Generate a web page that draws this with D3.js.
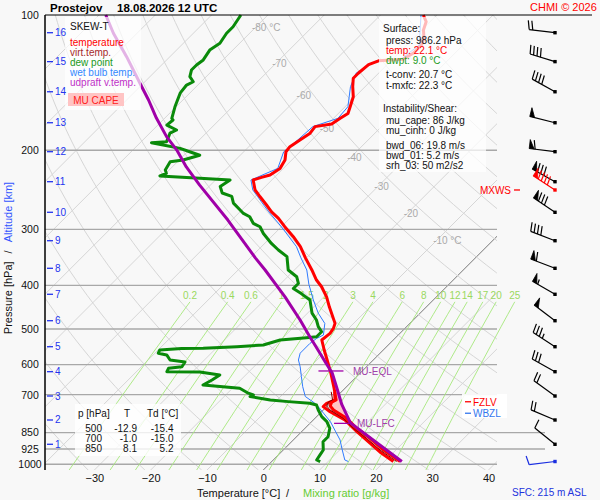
<!DOCTYPE html>
<html>
<head>
<meta charset="utf-8">
<style>
  body { margin: 0; background: #f8f8f8; }
  svg { display: block; font-family: "Liberation Sans", Arial, sans-serif; }
</style>
</head>
<body>
<div id="plot"></div>
<script src="https://cdn.jsdelivr.net/npm/d3@7"></script>
<script>

// sounding (pressure hPa, temperature C)
const tempP = [100,103.5,108,112.5,116.6,121.7,125.5,126.5,129,134.8,138.3,144.4,152.1,160,165.6,169.8,174.9,177.2,183.3,189.8,196.4,201.6,210.3,219.5,227.1,229.8,233,245.2,253.9,264.8,274.2,283.6,296,311.6,327.7,347.2,369.5,389,402.6,424.2,446.8,485.8,498.4,511.5,529,556.8,586.1,627,676.6,690,719.4,731.8,744.5,764,797,847,898,939,986.2]
const tempT = [-52.4,-50.7,-49.7,-48.2,-47.4,-47.4,-48.1,-52.2,-53.3,-53.6,-53.6,-52.2,-50.3,-49.1,-48.3,-48.8,-49.3,-51.8,-51.5,-52.1,-52.7,-52.5,-51.2,-50.6,-51.2,-52.3,-53.3,-51.2,-49.1,-46.5,-44.4,-42.0,-39.4,-36.1,-33.1,-30.2,-26.9,-24.3,-22.2,-19.5,-17.2,-13.3,-12.7,-12.4,-12.7,-10.5,-8.2,-5.2,-2.0,-1.2,0.3,-0.6,-0.6,1.5,5.6,9.9,14.2,17.5,21.6]

const virtP = [690,719.4,727,741.8,757,790,831.8,875.5,929.6,986.2]
const virtT = [-1.2,0.5,0.1,0.5,1.8,5.6,9.2,13.3,17.8,22.8]

const dewP = [100,106.2,109.8,115.6,119.7,125.9,129.2,132.6,137.2,140.8,143.2,149.3,160.1,169.9,171.3,175.8,180.3,183.3,191.4,192.4,194.8,198.1,201.6,205.2,210.3,212.1,221.3,225.2,228.1,230.8,233,240.9,249,253.4,262.3,271.7,276.5,281.2,290.9,296,306.4,322.5,333.5,345,369.5,382.5,395.9,406.3,417,431,461,477.5,494,507,520.3,523,529,542.6,547.3,551.8,552.5,556.8,566,571,586.1,592,606.6,611.6,622.1,623,632.9,649.3,666.3,677.6,694.8,700.8,706.8,719.4,725.5,731.6,738,757.2,783.5,804,831.8,868.6,891.4,929.6,953.5,978.5,986.2]
const dewT = [-84.8,-84.1,-84.1,-83.5,-84.1,-83.5,-83.8,-83.8,-82.9,-81.4,-82.0,-81.7,-80.2,-78.7,-78.2,-78.4,-75.8,-76.4,-75.5,-78.0,-75.5,-71.9,-69.6,-67.2,-69.3,-71.3,-70.7,-69.9,-70.6,-63.1,-57.4,-58.0,-56.5,-54.2,-52.7,-50.3,-49.1,-47.4,-45.6,-43.8,-42.0,-38.8,-36.4,-33.7,-31.1,-28.4,-26.9,-26.9,-24.6,-21.9,-19.2,-17.2,-15.7,-14.2,-14.2,-15.8,-20.1,-22.2,-26.6,-32.3,-36.1,-39.7,-39.4,-37.6,-36.1,-33.1,-32.8,-34.9,-34.6,-28.7,-24.6,-25.1,-25.8,-18.7,-16.3,-15.1,-15.4,-11.2,-7.7,-3.6,-2.1,-0.9,0.9,2.7,4.4,5.6,5.6,7.1,7.4,7.7,8.6]

const wetP = [100,116.6,125.5,126.5,134.8,144.4,160,169.8,177.2,189.8,201.6,219.5,233,245.2,253.9,264.8,274.2,296,327.7,347.2,369.5,397.5,431,461,486,515.6,524.6,538.4,566,586.1,606.6,638.6,672,706.6,731.6,744.4,769.7,803.5,844,883,921.6,978.5,986.2]
const wetT = [-52.8,-47.8,-48.5,-52.6,-54.0,-52.6,-49.5,-49.2,-52.2,-52.5,-52.9,-51.0,-53.7,-51.6,-49.5,-47.0,-44.9,-40.0,-33.8,-31.0,-27.8,-24.9,-21.3,-18.1,-15.1,-13.3,-13.9,-14.2,-14.2,-13.3,-11.8,-9.8,-7.8,-5.6,-2.7,-1.5,0.6,3.3,5.9,8.3,10.1,12.7,13.6]

const parcelP = [100,109.8,123.8,141.9,154.6,169.6,186.5,199.8,217.9,239.2,286,347.2,369.5,424,477.5,515.6,556.8,595,626.3,676.6,736.2,809,986.2]
const parcelT = [-108.8,-104.2,-97.7,-90.6,-86.1,-81.5,-76.4,-72.2,-67.5,-61.9,-50.7,-39.1,-35.2,-26.9,-20.1,-15.9,-11.6,-7.9,-5.0,-1.5,2.3,7.1,23.1]

const lfcP = 811, eqlP = 620, fzlvP = 726, wbzlP = 770

// axes and grid
const pressureTicks = [100,200,300,400,500,600,700,850,925,1000]
const tempTicks = [-30,-20,-10,0,10,20,30,40]
const altKm = [1,2,3,4,5,6,7,8,9,10,11,12,13,14,15,16]
const altP = [902.8,797.1,704.9,622.3,547.5,479.2,418.5,366.3,318,274.9,235,201.5,173.7,148.2,127,109.5]
const mixRatios = [0.2,0.4,0.6,1,1.5,2,3,4,6,8,10,12,14,17,20,25]
const isoLabelT = [-80,-70,-60,-50,-40,-30,-20,-10]
const isoLabelP = [106.3,127.9,150.6,178.6,207,240.3,276,316.6]

// winds: surface then 1..16 km
const windP = [986.2].concat(altP)
const windDir = [263,309,293,306,299,303,307,300,291,291,304,299,277,284,299,287,277]
const windSpd = [10,10,20,20,30,35,50,55,60,40,80,80,60,50,40,40,20]
const mxwsP = 245.2, mxwsDir = 303, mxwsSpd = 90

const surfaceLines = ["press: 986.2 hPa", "temp: 22.1 °C", "dwpt: 9.0 °C", "t-conv: 20.7 °C", "t-mxfc: 22.3 °C"]
const shearLines = ["mu_cape: 86 J/kg", "mu_cinh: 0 J/kg", "bwd_06: 19.8 m/s", "bwd_01: 5.2 m/s", "srh_03: 50 m2/s2"]
const tableP = [500, 700, 850]
const tableT = ["-12.9", "-1.0", "8.1"]
const tableTd = ["-15.4", "-15.0", "5.2"]

let width = 600
let height = 500

let svg = d3.select("#plot")
    .append("svg")
    .attr("width", width)
    .attr("height", height)

svg.append("rect").attr("width", width).attr("height", height).attr("fill", "#f8f8f8")

let y = d3.scaleLog().domain([100, 1030]).range([15, 470])
let xBase = d3.scaleLinear().domain([0, 10]).range([263.3, 319.6])
let sx = (t, p) => xBase(t) + (470 - y(p))

let zip = (ps, ts) => ps.map((p, i) => ({p: p, t: ts[i]}))
let interp = (ps, ts, p) => {
    let i = d3.bisectLeft(ps, p)
    if (i <= 0) return ts[0]
    if (i >= ps.length) return ts[ts.length - 1]
    let f = (Math.log(p) - Math.log(ps[i-1])) / (Math.log(ps[i]) - Math.log(ps[i-1]))
    return ts[i-1] + f * (ts[i] - ts[i-1])
}

svg.append("clipPath").attr("id", "frame")
    .append("rect").attr("x", 45).attr("y", 15).attr("width", 452).attr("height", 455)

let grid = svg.append("g").attr("clip-path", "url(#frame)")

// isotherms
let isoLine = t => [[sx(t, 1030), y(1030)], [sx(t, 100), y(100)]]
d3.range(-130, 50, 10).forEach(t => {
    grid.append("path")
        .attr("d", d3.line()(isoLine(t)))
        .attr("stroke", t == 0 ? "#777" : "#d6d6d6")
        .attr("stroke-width", 1)
        .attr("fill", "none")
})

// dry adiabats
let logP = d3.range(61).map(i => Math.exp(Math.log(1030) + i / 60 * (Math.log(100) - Math.log(1030))))
d3.range(230, 480, 10).forEach(th => {
    let pts = logP.map(p => [sx(th * Math.pow(p / 1000, 0.2857) - 273.15, p), y(p)])
    grid.append("path")
        .attr("d", d3.line()(pts))
        .attr("stroke", "#d6d6d6")
        .attr("fill", "none")
})

// isobars
pressureTicks.filter(p => p > 100).forEach(p => {
    svg.append("line")
        .attr("x1", 45).attr("x2", (p == 850 || p == 925) ? 545 : 497)
        .attr("y1", y(p)).attr("y2", y(p))
        .attr("stroke", "#a8a8a8")
        .attr("stroke-width", 1.3)
})

// mixing ratio lines
let dewFromW = (w, p) => {
    let e = w * p / (622 + w)
    let l = Math.log(e / 6.112)
    return 243.5 * l / (17.67 - l)
}
let mixTop = 435
mixRatios.forEach(w => {
    let pts = d3.range(21).map(i => {
        let p = 1030 - i / 20 * (1030 - mixTop)
        return [sx(dewFromW(w, p), p), y(p)]
    })
    svg.append("path")
        .attr("d", d3.line()(pts))
        .attr("stroke", "#a6e87c")
        .attr("stroke-width", 0.9)
        .attr("fill", "none")
    svg.append("text")
        .attr("x", sx(dewFromW(w, mixTop), mixTop))
        .attr("y", y(mixTop) - 3)
        .attr("text-anchor", "middle")
        .attr("font-size", 10)
        .attr("fill", "#9ad860")
        .text(w)
})

// isotherm labels
isoLabelT.forEach((t, i) => {
    let p = isoLabelP[i]
    svg.append("text")
        .attr("x", sx(t, p) - 4)
        .attr("y", y(p) + 4)
        .attr("font-size", 10)
        .attr("fill", "#aaa")
        .text(i == 0 || i == isoLabelT.length - 1 ? t + " °C" : t)
})

// MU CAPE area
let envP = tempP.filter(p => p < 690).concat(virtP)
let envT = tempT.filter((t, i) => tempP[i] < 690).concat(virtT)
let capeP = d3.range(41).map(i => Math.exp(Math.log(eqlP) + i / 40 * (Math.log(lfcP) - Math.log(eqlP))))
svg.append("path")
    .datum(capeP)
    .attr("d", d3.area()
        .y(p => y(p))
        .x0(p => sx(interp(envP, envT, p), p))
        .x1(p => Math.max(sx(interp(envP, envT, p), p), sx(interp(parcelP, parcelT, p), p))))
    .attr("fill", "#ffc4c4")

let line = d3.line().x(d => sx(d.t, d.p)).y(d => y(d.p))
let drawProfile = (ps, ts, color, w) => {
    svg.append("path")
        .datum(zip(ps, ts))
        .attr("d", line)
        .attr("stroke", color)
        .attr("stroke-width", w)
        .attr("stroke-linejoin", "round")
        .attr("fill", "none")
}

drawProfile(wetP, wetT, "#2f7bff", 1)
drawProfile(dewP, dewT, "#0a8a0a", 3)
drawProfile(tempP, tempT, "#ff0000", 3)
drawProfile(virtP, virtT, "#ff0000", 3)
svg.append("path")
    .datum(zip(virtP, virtT))
    .attr("d", line)
    .attr("transform", "translate(-3.5,0)")
    .attr("stroke", "#8b0000")
    .attr("stroke-width", 1)
    .attr("fill", "none")
drawProfile(parcelP, parcelT, "#a000a8", 3)

// EQL / LFC markers
let eqlX = sx(interp(parcelP, parcelT, eqlP), eqlP)
let lfcX = sx(interp(parcelP, parcelT, lfcP), lfcP)
svg.append("line").attr("x1", eqlX - 12.5).attr("x2", eqlX + 12.5)
    .attr("y1", y(eqlP)).attr("y2", y(eqlP)).attr("stroke", "#a000a8").attr("stroke-width", 1.3)
svg.append("text").attr("x", eqlX + 22).attr("y", y(eqlP) + 4)
    .attr("font-size", 10).attr("fill", "#a040a8").text("MU-EQL")
svg.append("line").attr("x1", lfcX - 17).attr("x2", lfcX)
    .attr("y1", y(lfcP)).attr("y2", y(lfcP)).attr("stroke", "#a000a8").attr("stroke-width", 1.3)
svg.append("text").attr("x", lfcX + 6).attr("y", y(lfcP) + 4)
    .attr("font-size", 10).attr("fill", "#a040a8").text("MU-LFC")

// freezing level / wet bulb zero
svg.append("rect").attr("x", 462).attr("y", 394).attr("width", 45).attr("height", 24)
    .attr("fill", "white").attr("opacity", 0.9)
;[[fzlvP, "FZLV", "#ff0000"], [wbzlP, "WBZL", "#3377ee"]].forEach(d => {
    svg.append("line").attr("x1", 465).attr("x2", 471).attr("y1", y(d[0])).attr("y2", y(d[0]))
        .attr("stroke", d[2]).attr("stroke-width", 1.3)
    svg.append("text").attr("x", 473).attr("y", y(d[0]) + 4)
        .attr("font-size", 10).attr("fill", d[2]).text(d[1])
})

// legend
svg.append("rect").attr("x", 65).attr("y", 17).attr("width", 76).attr("height", 93)
    .attr("fill", "white").attr("opacity", 0.7)
svg.append("text").attr("x", 70).attr("y", 30).attr("font-size", 10).attr("fill", "#111").text("SKEW-T")
;[["temperature", "#ff0000"], ["virt.temp.", "#a52a2a"], ["dew point", "#1a9a1a"],
  ["wet bulb temp.", "#3388ff"], ["udpraft v.temp.", "#c030c8"]].forEach((d, i) => {
    svg.append("text").attr("x", 70).attr("y", 45.5 + i * 10)
        .attr("font-size", 10).attr("fill", d[1]).text(d[0])
})
svg.append("rect").attr("x", 68).attr("y", 93).attr("width", 56).attr("height", 13).attr("fill", "#ffc4c4")
svg.append("text").attr("x", 96).attr("y", 103.5).attr("text-anchor", "middle")
    .attr("font-size", 10).attr("fill", "#ff2020").text("MU CAPE")

// surface / instability box
svg.append("rect").attr("x", 379).attr("y", 17).attr("width", 107).attr("height", 155)
    .attr("fill", "white").attr("opacity", 0.72)
svg.append("text").attr("x", 383).attr("y", 31.5).attr("font-size", 10).attr("fill", "#111").text("Surface:")
let surfY = [43.5, 53.5, 63.5, 77.5, 88.5]
let surfC = ["#111", "#ff0000", "#1a9a1a", "#111", "#111"]
surfaceLines.forEach((s, i) => {
    svg.append("text").attr("x", 386).attr("y", surfY[i]).attr("font-size", 10).attr("fill", surfC[i]).text(s)
})
svg.append("text").attr("x", 383).attr("y", 111.5).attr("font-size", 10).attr("fill", "#111").text("Instability/Shear:")
let shearY = [123.5, 133.5, 148.5, 158.5, 168.5]
shearLines.forEach((s, i) => {
    svg.append("text").attr("x", 386).attr("y", shearY[i]).attr("font-size", 10).attr("fill", "#111").text(s)
})

// table
svg.append("rect").attr("x", 75).attr("y", 404).attr("width", 106).attr("height", 52)
    .attr("fill", "white").attr("opacity", 0.8)
svg.append("text").attr("x", 78).attr("y", 417).attr("font-size", 10).attr("fill", "#111").text("p [hPa]")
svg.append("text").attr("x", 127).attr("y", 417).attr("text-anchor", "middle").attr("font-size", 10).attr("fill", "#111").text("T")
svg.append("text").attr("x", 147).attr("y", 417).attr("font-size", 10).attr("fill", "#111").text("Td [°C]")
tableP.forEach((p, i) => {
    let ty = 431.5 + i * 10
    svg.append("text").attr("x", 102).attr("y", ty).attr("text-anchor", "end").attr("font-size", 10).attr("fill", "#111").text(p)
    svg.append("text").attr("x", 137).attr("y", ty).attr("text-anchor", "end").attr("font-size", 10).attr("fill", "#111").text(tableT[i])
    svg.append("text").attr("x", 173.5).attr("y", ty).attr("text-anchor", "end").attr("font-size", 10).attr("fill", "#111").text(tableTd[i])
})

// wind barbs
let drawBarb = (p, dir, spd, color) => {
    let g = svg.append("g").attr("stroke", color).attr("fill", color)
    let x0 = 555, y0 = y(p)
    let a = dir * Math.PI / 180
    let ux = Math.sin(a), uy = -Math.cos(a)
    let vx = -uy, vy = ux
    let tx = x0 + ux * 26, ty = y0 + uy * 26
    let at = d => [tx - ux * d, ty - uy * d]
    g.append("line").attr("x1", x0).attr("y1", y0).attr("x2", tx).attr("y2", ty).attr("stroke-width", 1.2)
    g.append("rect").attr("x", x0 - 1.7).attr("y", y0 - 1.7).attr("width", 3.4).attr("height", 3.4).attr("stroke", "none")
    let s = Math.round(spd / 5) * 5
    let pos = 0
    while (s >= 50) {
        let a0 = at(pos), a1 = at(pos + 5)
        g.append("path")
            .attr("d", d3.line()([a0, [a0[0] + vx * 9, a0[1] + vy * 9], a1]))
            .attr("stroke-width", 0.8)
        pos += 6
        s -= 50
    }
    while (s >= 10) {
        let a0 = at(pos)
        g.append("line").attr("x1", a0[0]).attr("y1", a0[1])
            .attr("x2", a0[0] + vx * 9 + ux * 2).attr("y2", a0[1] + vy * 9 + uy * 2)
            .attr("stroke-width", 1.2)
        pos += 3.6
        s -= 10
    }
    if (s >= 5) {
        if (pos == 0) pos = 3.6
        let a0 = at(pos)
        g.append("line").attr("x1", a0[0]).attr("y1", a0[1])
            .attr("x2", a0[0] + vx * 5 + ux * 1).attr("y2", a0[1] + vy * 5 + uy * 1)
            .attr("stroke-width", 1.2)
    }
}
windP.forEach((p, i) => drawBarb(p, windDir[i], windSpd[i], i == 0 ? "#1a2ee0" : "#000"))
drawBarb(mxwsP, mxwsDir, mxwsSpd, "#ff0000")
svg.append("text").attr("x", 511).attr("y", y(mxwsP) + 4).attr("text-anchor", "end")
    .attr("font-size", 10).attr("fill", "#ff0000").text("MXWS")
svg.append("line").attr("x1", 514).attr("x2", 520).attr("y1", y(mxwsP)).attr("y2", y(mxwsP))
    .attr("stroke", "#ff0000").attr("stroke-width", 1.3)

// frame
svg.append("line").attr("x1", 45).attr("x2", 592).attr("y1", 15).attr("y2", 15).attr("stroke", "#000")
svg.append("line").attr("x1", 45).attr("x2", 45).attr("y1", 15).attr("y2", 470).attr("stroke", "#000").attr("stroke-width", 1.5)

// pressure axis
let yAxis = svg.append("g")
    .attr("transform", "translate(45,0)")
    .call(d3.axisLeft(y).tickValues(pressureTicks).tickSize(0).tickFormat(d3.format("d")))
yAxis.select(".domain").remove()
yAxis.selectAll("text")
    .attr("x", -15).attr("text-anchor", "middle")
    .attr("font-size", 10.5).attr("font-family", "Liberation Sans, Arial, sans-serif").attr("fill", "#111")

// altitude ticks
altKm.forEach((k, i) => {
    svg.append("line").attr("x1", 47).attr("x2", 53).attr("y1", y(altP[i])).attr("y2", y(altP[i]))
        .attr("stroke", "#2233ee").attr("stroke-width", 1.3)
    svg.append("text").attr("x", 55).attr("y", y(altP[i])).attr("dy", "0.35em")
        .attr("font-size", 10).attr("fill", "#2233ee").text(k)
})

// temperature axis
let xAxis = svg.append("g")
    .attr("transform", "translate(0,470)")
    .call(d3.axisBottom(xBase).tickValues(tempTicks).tickSize(0).tickPadding(4))
xAxis.select(".domain").remove()
xAxis.selectAll("text").attr("font-size", 11).attr("font-family", "Liberation Sans, Arial, sans-serif").attr("fill", "#111")

// titles
svg.append("text").attr("x", 50).attr("y", 12).attr("font-size", 11.5).attr("font-weight", "bold").text("Prostejov")
svg.append("text").attr("x", 117).attr("y", 12).attr("font-size", 11.5).attr("font-weight", "bold").text("18.08.2026 12 UTC")
svg.append("text").attr("x", 530).attr("y", 11).attr("font-size", 11).attr("fill", "#ff0000").text("CHMI © 2026")

svg.append("text").attr("x", 197).attr("y", 497).attr("font-size", 11).attr("fill", "#111").text("Temperature [°C]")
svg.append("text").attr("x", 286).attr("y", 497).attr("font-size", 11).attr("fill", "#111").text("/")
svg.append("text").attr("x", 303).attr("y", 497).attr("font-size", 11).attr("fill", "#66cc33").text("Mixing ratio [g/kg]")
svg.append("text").attr("x", 512).attr("y", 496).attr("font-size", 10).attr("fill", "#2233dd").text("SFC: 215 m ASL")

let yTitle = svg.append("text")
    .attr("transform", "translate(11.5,258) rotate(-90)")
    .attr("text-anchor", "middle")
    .attr("font-size", 11)
yTitle.append("tspan").attr("fill", "#111").text("Pressure [hPa]")
yTitle.append("tspan").attr("fill", "#111").attr("dx", 8).text("/")
yTitle.append("tspan").attr("fill", "#3355ff").attr("dx", 8).text("Altitude [km]")

</script>
</body>
</html>
